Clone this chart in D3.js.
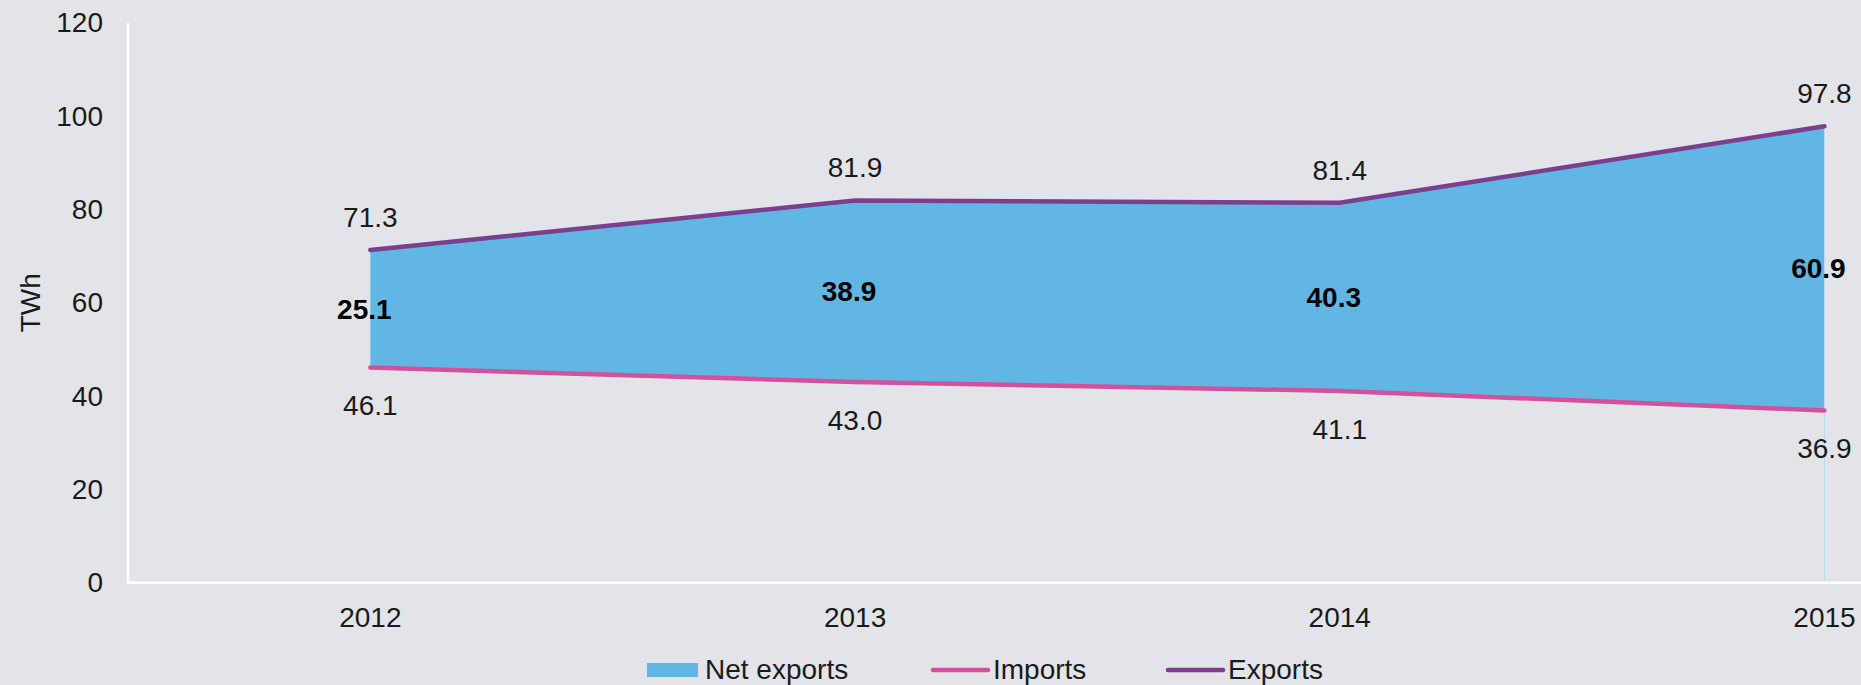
<!DOCTYPE html>
<html>
<head>
<meta charset="utf-8">
<script src="https://cdn.jsdelivr.net/npm/d3@7"></script>
<style>
  html, body { margin: 0; padding: 0; background: #e3e4e9; }
  svg { display: block; }
  text { font-family: "Liberation Sans", Arial, sans-serif; fill: #1a1a1a; }
</style>
</head>
<body>
<div id="chart"></div>
<script>
// chart data
var years = ['2012', '2013', '2014', '2015'];
var exportsValues = [71.3, 81.9, 81.4, 97.8];
var importsValues = [46.1, 43.0, 41.1, 36.9];
var netValues = [25.1, 38.9, 40.3, 60.9];
var yTicks = [0, 20, 40, 60, 80, 100, 120];
var legendLabels = ['Net exports', 'Imports', 'Exports'];

var width = 1861, height = 685;
var colors = { net: '#62b6e3', imports: '#d5509b', exports: '#7c3f8d' };

var svg = d3.select('#chart').append('svg')
    .attr('width', width)
    .attr('height', height);

// category axis runs past the right edge, like the source
var x = d3.scaleBand().domain(years).range([128, 128 + 4 * 484.7]);
var cx = function (d) { return x(d) + x.bandwidth() / 2; };
var y = d3.scaleLinear().domain([0, 120]).range([582.7, 22.7]);

var rows = years.map(function (yr, i) {
    return { year: yr, exp: exportsValues[i], imp: importsValues[i], net: netValues[i] };
});

// net exports area between the two lines
var area = d3.area()
    .x(function (d) { return cx(d.year); })
    .y0(function (d) { return y(d.imp); })
    .y1(function (d) { return y(d.exp); });

svg.append('path')
    .datum(rows)
    .attr('d', area)
    .attr('fill', colors.net);

// faint drop line at the last point
var last = rows[rows.length - 1];
svg.append('line')
    .attr('x1', cx(last.year)).attr('x2', cx(last.year))
    .attr('y1', y(last.exp)).attr('y2', y(0))
    .attr('stroke', '#b9daf0')
    .attr('stroke-width', 1);

// axes (white lines, no ticks)
svg.append('line')
    .attr('x1', 128).attr('x2', 128)
    .attr('y1', y(120)).attr('y2', y(0))
    .attr('stroke', '#fff').attr('stroke-width', 2.5);
svg.append('line')
    .attr('x1', 127).attr('x2', width)
    .attr('y1', y(0)).attr('y2', y(0))
    .attr('stroke', '#fff').attr('stroke-width', 2.5);

var yAxis = d3.axisLeft(y).tickValues(yTicks).tickSize(0).tickPadding(0);
var gy = svg.append('g')
    .attr('transform', 'translate(103,0)')
    .call(yAxis);
gy.select('.domain').remove();
gy.selectAll('text')
    .style('font-size', '28px')
    .style('fill', '#1a1a1a')
    .style('font-family', '"Liberation Sans", Arial, sans-serif');

var xAxis = d3.axisBottom(x).tickSize(0).tickPadding(0);
var gx = svg.append('g')
    .attr('transform', 'translate(0,' + 617 + ')')
    .call(xAxis);
gx.select('.domain').remove();
gx.selectAll('text')
    .attr('dy', '0.35em')
    .style('font-size', '28px')
    .style('fill', '#1a1a1a')
    .style('font-family', '"Liberation Sans", Arial, sans-serif');

svg.append('text')
    .attr('transform', 'translate(30,' + y(60) + ') rotate(-90)')
    .attr('text-anchor', 'middle')
    .attr('dy', '0.35em')
    .style('font-size', '28px')
    .text('TWh');

// lines
function line(key) {
    return d3.line()
        .x(function (d) { return cx(d.year); })
        .y(function (d) { return y(d[key]); });
}
svg.append('path').datum(rows)
    .attr('d', line('imp'))
    .attr('fill', 'none')
    .attr('stroke', colors.imports)
    .attr('stroke-width', 4.5)
    .attr('stroke-linecap', 'round');
svg.append('path').datum(rows)
    .attr('d', line('exp'))
    .attr('fill', 'none')
    .attr('stroke', colors.exports)
    .attr('stroke-width', 4.5)
    .attr('stroke-linecap', 'round');

// data labels
var labels = svg.append('g')
    .attr('text-anchor', 'middle')
    .style('font-size', '28px');

labels.selectAll('text.exp').data(rows).enter().append('text')
    .attr('class', 'exp')
    .attr('x', function (d) { return cx(d.year); })
    .attr('y', function (d) { return y(d.exp) - 33; })
    .attr('dy', '0.35em')
    .text(function (d) { return d.exp.toFixed(1); });

labels.selectAll('text.imp').data(rows).enter().append('text')
    .attr('class', 'imp')
    .attr('x', function (d) { return cx(d.year); })
    .attr('y', function (d) { return y(d.imp) + 38; })
    .attr('dy', '0.35em')
    .text(function (d) { return d.imp.toFixed(1); });

labels.selectAll('text.net').data(rows).enter().append('text')
    .attr('class', 'net')
    .attr('x', function (d) { return cx(d.year) - 6; })
    .attr('y', function (d) { return y((d.imp + d.exp) / 2); })
    .attr('dy', '0.35em')
    .style('font-weight', 'bold')
    .style('fill', '#000')
    .text(function (d) { return d.net.toFixed(1); });

// legend
var legendY = 669;
var legend = svg.append('g').style('font-size', '28px');
var legendItems = [
    { label: legendLabels[0], x: 647, type: 'rect', color: colors.net },
    { label: legendLabels[1], x: 933, type: 'line', color: colors.imports },
    { label: legendLabels[2], x: 1168, type: 'line', color: colors.exports }
];
legendItems.forEach(function (item) {
    if (item.type === 'rect') {
        legend.append('rect')
            .attr('x', item.x).attr('y', legendY - 6)
            .attr('width', 51).attr('height', 14)
            .attr('fill', item.color);
        legend.append('text')
            .attr('x', item.x + 58).attr('y', legendY)
            .attr('dy', '0.35em')
            .text(item.label);
    } else {
        legend.append('line')
            .attr('x1', item.x).attr('x2', item.x + 55)
            .attr('y1', legendY + 1).attr('y2', legendY + 1)
            .attr('stroke', item.color)
            .attr('stroke-width', 4.5)
            .attr('stroke-linecap', 'round');
        legend.append('text')
            .attr('x', item.x + 60).attr('y', legendY)
            .attr('dy', '0.35em')
            .text(item.label);
    }
});
</script>
</body>
</html>
